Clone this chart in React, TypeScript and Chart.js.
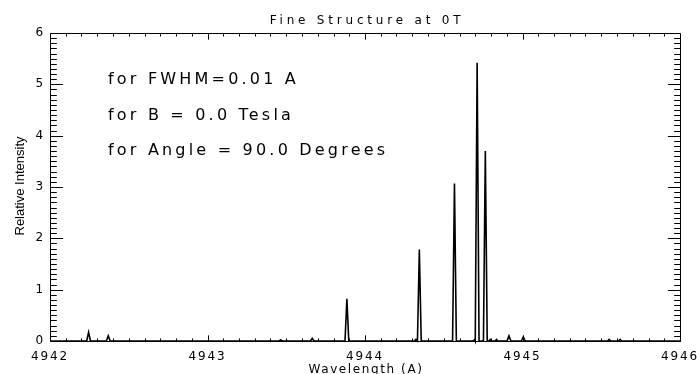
import React, { useEffect, useRef } from "react";
import { Chart, registerables } from "chart.js";

Chart.register(...registerables);

// ---- data ----
const wavelengths = [
  4942.0,
  4942.233, 4942.245, 4942.257,
  4942.358, 4942.370, 4942.382,
  4943.453, 4943.465, 4943.477,
  4943.653, 4943.665, 4943.677,
  4943.873, 4943.885, 4943.897,
  4944.313, 4944.323, 4944.333, 4944.345, 4944.357,
  4944.556, 4944.568, 4944.580,
  4944.688, 4944.696, 4944.700, 4944.712, 4944.724,
  4944.752, 4944.764, 4944.776,
  4944.787, 4944.795, 4944.803,
  4944.827, 4944.835, 4944.843,
  4944.902, 4944.914, 4944.926,
  4944.993, 4945.005, 4945.017,
  4945.540, 4945.550, 4945.560,
  4945.610, 4945.620, 4945.630,
  4946.0,
];
const intensities = [
  0,
  0, 0.17, 0,
  0, 0.10, 0,
  0, 0.02, 0,
  0, 0.05, 0,
  0, 0.82, 0,
  0, 0.03, 0, 1.78, 0,
  0, 3.07, 0,
  0, 0.03, 0, 5.42, 0,
  0, 3.70, 0,
  0, 0.03, 0,
  0, 0.03, 0,
  0, 0.10, 0,
  0, 0.08, 0,
  0, 0.03, 0,
  0, 0.03, 0,
  0,
];

const xMin = 4942;
const xMax = 4946;
const yMin = 0;
const yMax = 6;
const minorStep = 0.1;

const titleText = "Fine Structure at 0T";
const xTitle = "Wavelength (A)";
const yTitle = "Relative Intensity";
const notes = ["for FWHM=0.01 A", "for B = 0.0 Tesla", "for Angle = 90.0 Degrees"];

const HERSHEY = '"DejaVu Sans", sans-serif';

const isMajor = (v: number) => Math.abs(v - Math.round(v)) < 1e-6;

const idlPlugin = {
  id: "idlFrame",
  beforeDraw(chart: any) {
    chart.ctx.letterSpacing = "1.9px";
  },
  afterDraw(chart: any) {
    const { ctx, chartArea: a, scales } = chart;
    ctx.save();
    ctx.letterSpacing = "0px";
    ctx.strokeStyle = "#000";
    ctx.lineWidth = 1;
    const L = Math.floor(a.left) + 0.5;
    const R = Math.floor(a.right) + 0.5;
    const T = Math.floor(a.top) + 0.5;
    const B = Math.floor(a.bottom) + 0.5;
    ctx.beginPath();
    ctx.rect(L, T, R - L, B - T);
    ctx.stroke();
    const xs = scales.x;
    const ys = scales.y;
    const h = a.bottom - a.top;
    const w = a.right - a.left;
    ctx.beginPath();
    xs.ticks.forEach((t: any) => {
      const px = Math.round(xs.getPixelForValue(t.value)) + 0.5;
      const len = isMajor(t.value) ? 0.02 * h : 0.01 * h;
      ctx.moveTo(px, B);
      ctx.lineTo(px, B - len);
      ctx.moveTo(px, T);
      ctx.lineTo(px, T + len);
    });
    ys.ticks.forEach((t: any) => {
      const py = Math.round(ys.getPixelForValue(t.value)) + 0.5;
      const len = isMajor(t.value) ? 0.02 * w : 0.01 * w;
      ctx.moveTo(L, py);
      ctx.lineTo(L + len, py);
      ctx.moveTo(R, py);
      ctx.lineTo(R - len, py);
    });
    ctx.stroke();

    ctx.fillStyle = "#000";
    ctx.textBaseline = "alphabetic";
    const cx = (a.left + a.right) / 2;
    // title
    ctx.textAlign = "center";
    ctx.font = `12px ${HERSHEY}`;
    ctx.letterSpacing = "3.8px";
    ctx.fillText(titleText, cx + 2, 24);
    // x title
    ctx.font = `12px ${HERSHEY}`;
    ctx.letterSpacing = "1.6px";
    ctx.fillText(xTitle, cx + 1, 373);
    // notes
    ctx.textAlign = "left";
    ctx.font = `16px ${HERSHEY}`;
    ctx.letterSpacing = "3.2px";
    const noteY = [84, 119.5, 155];
    notes.forEach((n, i) => ctx.fillText(n, 108, noteY[i]));
    // y title
    ctx.letterSpacing = "0px";
    ctx.save();
    ctx.translate(24, 186);
    ctx.rotate(-Math.PI / 2);
    ctx.textAlign = "center";
    ctx.font = `13px "Liberation Sans", Arial, sans-serif`;
    ctx.fillText(yTitle, 0, 0);
    ctx.restore();
    ctx.restore();
  },
};

export default function App() {
  const ref = useRef<HTMLCanvasElement | null>(null);
  useEffect(() => {
    document.body.style.margin = "0";
    const canvas = ref.current;
    if (!canvas) return;
    const points = wavelengths.map((x, i) => ({ x, y: intensities[i] }));
    const chart = new Chart(canvas, {
      type: "line",
      data: {
        datasets: [
          {
            data: points,
            borderColor: "#000",
            borderWidth: 1.6,
            pointRadius: 0,
            tension: 0,
            fill: false,
            clip: false,
          } as any,
        ],
      },
      options: {
        responsive: false,
        devicePixelRatio: 1,
        animation: false,
        events: [],
        layout: { padding: { left: 0, top: 33, right: 17, bottom: 0 } },
        plugins: {
          legend: { display: false },
          title: { display: false },
          tooltip: { enabled: false },
        },
        scales: {
          x: {
            type: "linear",
            min: xMin,
            max: xMax,
            afterFit: (s: any) => {
              s.height = 33;
              s.paddingLeft = 0;
              s.paddingRight = 0;
            },
            grid: { display: false, drawTicks: false },
            border: { display: false },
            ticks: {
              stepSize: minorStep,
              autoSkip: false,
              maxRotation: 0,
              padding: 9,
              color: "#000",
              font: { family: HERSHEY, size: 12 },
              callback: (v: any) => (isMajor(Number(v)) ? String(Math.round(Number(v))) : ""),
            },
          },
          y: {
            type: "linear",
            min: yMin,
            max: yMax,
            afterFit: (s: any) => {
              s.width = 50;
              s.paddingTop = 0;
              s.paddingBottom = 0;
            },
            grid: { display: false, drawTicks: false },
            border: { display: false },
            ticks: {
              stepSize: minorStep,
              autoSkip: false,
              padding: 5,
              color: "#000",
              font: { family: HERSHEY, size: 12 },
              callback: (v: any) => (isMajor(Number(v)) ? String(Math.round(Number(v))) : ""),
            },
          },
        },
      },
      plugins: [idlPlugin],
    });
    return () => chart.destroy();
  }, []);
  return (
    <div style={{ width: 697, height: 374, background: "#fff" }}>
      <canvas ref={ref} width={697} height={374} style={{ display: "block" }} />
    </div>
  );
}
